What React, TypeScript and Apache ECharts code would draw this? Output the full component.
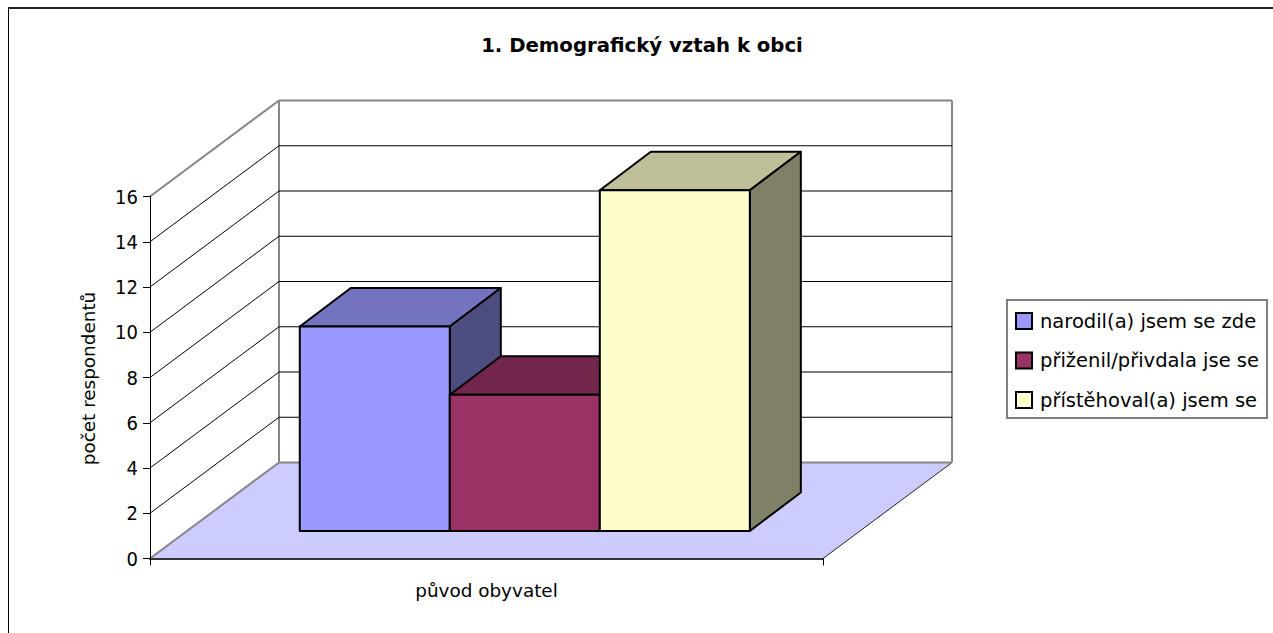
import React, { useEffect, useRef } from "react";
import * as echarts from "echarts";

const categories = ["původ obyvatel"];
const seriesNames = ["narodil(a) jsem se zde", "přiženil/přivdala jse se", "přístěhoval(a) jsem se"];
const seriesValues = [9, 6, 15];
const frontColors = ["#9999FF", "#993366", "#FFFFCC"];
const topColors = ["#7373BF", "#73264C", "#BFBF99"];
const sideColors = ["#4D4D80", "#4D1A33", "#808066"];
const yTicks = [0, 2, 4, 6, 8, 10, 12, 14, 16];

const FONT = "'DejaVu Sans', sans-serif";
const NUM_FONT = "'Liberation Sans Narrow', 'DejaVu Sans Condensed', sans-serif";
const WALL_DX = 129;
const WALL_DY = -96;
const BAR_FRONT_DX = 38.3;
const BAR_FRONT_DY = -27.5;
const BAR_DX = 51;
const BAR_DY = -38.5;
const BAR_RATIO = 0.2229;
const BAR_HEIGHT_SCALE = 1.004;

const line = (x1: number, y1: number, x2: number, y2: number, stroke: string, lineWidth: number) => ({
  type: "line",
  silent: true,
  shape: { x1, y1, x2, y2 },
  style: { stroke, lineWidth },
});

const renderWall = (params: any, api: any) => {
  const tick = api.value(1);
  const [cx, y] = api.coord([0, tick]);
  const band = api.size([1, 0])[0];
  const left = cx - band / 2;
  const right = cx + band / 2;
  const isEdge = tick === 0 || tick === yTicks[yTicks.length - 1];
  const children: any[] = [];
  if (tick === 0) {
    const [, topY] = api.coord([0, yTicks[yTicks.length - 1]]);
    children.push({
      type: "polygon",
      silent: true,
      shape: { points: [[left, y], [right, y], [right + WALL_DX, y + WALL_DY], [left + WALL_DX, y + WALL_DY]] },
      style: { fill: "#CCCCFF" },
    });
    children.push(line(left + WALL_DX, y + WALL_DY, left + WALL_DX, topY + WALL_DY, "#868686", 2));
    children.push(line(right + WALL_DX, y + WALL_DY, right + WALL_DX, topY + WALL_DY, "#868686", 2));
    children.push(line(right, y, right + WALL_DX, y + WALL_DY, "#222222", 1));
  }
  children.push(line(left, y, left + WALL_DX, y + WALL_DY, isEdge ? "#868686" : "#000000", isEdge ? 2 : 1));
  children.push(line(left + WALL_DX, y + WALL_DY, right + WALL_DX, y + WALL_DY, isEdge ? "#868686" : "#000000", isEdge ? 2 : 1));
  return { type: "group", children };
};

const renderBar = (i: number) => (params: any, api: any) => {
  const [cx, yBase] = api.coord([0, 0]);
  const [, yTop] = api.coord([0, api.value(1)]);
  const band = api.size([1, 0])[0];
  const w = band * BAR_RATIO;
  const x0 = cx + (i - seriesValues.length / 2) * w + BAR_FRONT_DX;
  const x1 = x0 + w;
  const b = yBase + BAR_FRONT_DY;
  const t = b - (yBase - yTop) * BAR_HEIGHT_SCALE;
  const stroke = { stroke: "#000000", lineWidth: 2, lineJoin: "round" };
  return {
    type: "group",
    children: [
      {
        type: "polygon",
        shape: { points: [[x0, t], [x1, t], [x1 + BAR_DX, t + BAR_DY], [x0 + BAR_DX, t + BAR_DY]] },
        style: { fill: topColors[i], ...stroke },
      },
      {
        type: "polygon",
        shape: { points: [[x1, t], [x1 + BAR_DX, t + BAR_DY], [x1 + BAR_DX, b + BAR_DY], [x1, b]] },
        style: { fill: sideColors[i], ...stroke },
      },
      {
        type: "polygon",
        shape: { points: [[x0, t], [x1, t], [x1, b], [x0, b]] },
        style: { fill: frontColors[i], ...stroke },
      },
    ],
  };
};

export default function App() {
  const ref = useRef<HTMLDivElement>(null);
  useEffect(() => {
    const chart = echarts.init(ref.current!, null, { renderer: "svg" });
    chart.setOption({
      animation: false,
      backgroundColor: "#FFFFFF",
      title: {
        text: "1. Demografický vztah k obci",
        left: 637,
        top: 30,
        textAlign: "center",
        textStyle: { fontFamily: FONT, fontSize: 19.7, fontWeight: "bold", color: "#000000" },
      },
      grid: { left: 150, top: 196.5, width: 673, height: 362, containLabel: false },
      xAxis: {
        type: "category",
        data: categories,
        z: 5,
        axisLine: { lineStyle: { color: "#333333", width: 2 } },
        axisTick: { show: true, length: 7, alignWithLabel: false, lineStyle: { color: "#000000" } },
        axisLabel: { color: "#000000", fontFamily: FONT, fontSize: 18.4, margin: 23 },
      },
      yAxis: {
        type: "value",
        min: 0,
        max: 16,
        interval: 2,
        z: 5,
        name: "počet respondentů",
        nameLocation: "middle",
        nameGap: 53,
        nameTextStyle: { color: "#000000", fontFamily: FONT, fontSize: 18.4, padding: [0, 2, 0, 0] },
        axisLine: { show: true, lineStyle: { color: "#000000" } },
        axisTick: { show: true, length: 7, lineStyle: { color: "#000000" } },
        axisLabel: { color: "#000000", fontFamily: NUM_FONT, fontSize: 20, margin: 12 },
        splitLine: { show: false },
      },
      legend: {
        orient: "vertical",
        left: 1007,
        top: 300,
        data: seriesNames.map((name) => ({ name, icon: "rect" })),
        selectedMode: false,
        backgroundColor: "#FFFFFF",
        borderColor: "#808080",
        borderWidth: 2,
        padding: [11, 8, 8, 8],
        itemWidth: 16,
        itemHeight: 16,
        itemGap: 19.5,
        itemStyle: { borderColor: "#000000", borderWidth: 2 },
        textStyle: { color: "#000000", fontFamily: FONT, fontSize: 19.5, padding: [0, 0, 0, 3] },
      },
      graphic: [
        { type: "line", shape: { x1: 8.5, y1: 8, x2: 8.5, y2: 633 }, style: { stroke: "#000000", lineWidth: 1 } },
        { type: "line", shape: { x1: 8, y1: 8, x2: 1273, y2: 8 }, style: { stroke: "#222222", lineWidth: 2 } },
      ],
      series: [
        {
          type: "custom",
          name: "walls",
          silent: true,
          clip: false,
          renderItem: renderWall,
          encode: { x: 0, y: 1 },
          data: yTicks.map((t) => [0, t]),
        },
        ...seriesNames.map((name, i) => ({
          type: "custom",
          name,
          silent: true,
          clip: false,
          itemStyle: { color: frontColors[i] },
          renderItem: renderBar(i),
          encode: { x: 0, y: 1 },
          data: [[0, seriesValues[i]]],
        })),
      ],
    });
    return () => chart.dispose();
  }, []);
  return <div ref={ref} style={{ position: "absolute", left: 0, top: 0, width: 1273, height: 633 }} />;
}
